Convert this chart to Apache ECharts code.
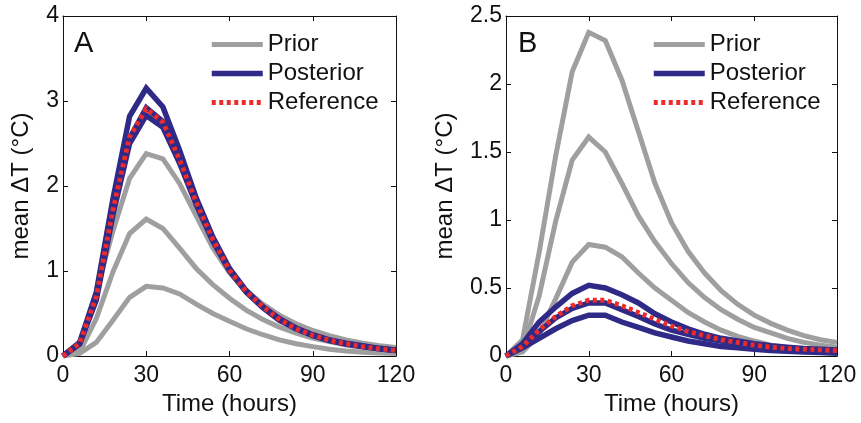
<!DOCTYPE html>
<html>
<head>
<meta charset="utf-8">
<script src="https://cdn.jsdelivr.net/npm/echarts@6/dist/echarts.min.js"></script>
<style>
html,body{margin:0;padding:0;background:#fff;}
#c{width:861px;height:423px;}
</style>
</head>
<body>
<div id="c"></div>
<script>
// ---- data ----
var time = [0, 6, 12, 18, 24, 30, 36, 42, 48, 54, 60, 66, 72, 78, 84, 90, 96, 102, 108, 114, 120];
// Priors (same in both panels)
var priorLow  = [0, 0.03, 0.16, 0.42, 0.69, 0.82, 0.80, 0.73, 0.61, 0.50, 0.41, 0.32, 0.25, 0.19, 0.145, 0.11, 0.08, 0.06, 0.045, 0.035, 0.03];
var priorMid  = [0, 0.05, 0.44, 0.99, 1.44, 1.61, 1.50, 1.27, 1.03, 0.84, 0.68, 0.54, 0.43, 0.34, 0.27, 0.21, 0.17, 0.13, 0.10, 0.08, 0.065];
var priorHigh = [0, 0.12, 0.76, 1.47, 2.09, 2.38, 2.32, 2.03, 1.65, 1.27, 0.98, 0.77, 0.61, 0.48, 0.38, 0.30, 0.24, 0.19, 0.15, 0.12, 0.10];
// Panel A
var postA1 = [0, 0.16, 0.75, 1.85, 2.82, 3.15, 2.93, 2.42, 1.86, 1.40, 1.03, 0.77, 0.58, 0.44, 0.33, 0.25, 0.19, 0.15, 0.12, 0.09, 0.07];
var postA2 = [0, 0.15, 0.70, 1.72, 2.56, 2.92, 2.76, 2.32, 1.82, 1.38, 1.02, 0.76, 0.58, 0.43, 0.32, 0.245, 0.185, 0.145, 0.11, 0.085, 0.065];
var postA3 = [0, 0.14, 0.66, 1.66, 2.50, 2.83, 2.69, 2.27, 1.78, 1.35, 1.00, 0.75, 0.57, 0.42, 0.32, 0.24, 0.18, 0.14, 0.11, 0.085, 0.065];
var refA   = [0, 0.15, 0.70, 1.72, 2.58, 2.91, 2.75, 2.31, 1.81, 1.37, 1.01, 0.76, 0.58, 0.43, 0.32, 0.245, 0.185, 0.145, 0.11, 0.085, 0.065];
// Panel B
var postB1 = [0, 0.09, 0.25, 0.36, 0.46, 0.52, 0.50, 0.45, 0.39, 0.31, 0.25, 0.20, 0.16, 0.13, 0.11, 0.09, 0.075, 0.065, 0.055, 0.05, 0.045];
var postB2 = [0, 0.07, 0.18, 0.28, 0.35, 0.39, 0.39, 0.34, 0.29, 0.235, 0.19, 0.16, 0.13, 0.11, 0.09, 0.07, 0.06, 0.05, 0.045, 0.04, 0.035];
var postB3 = [0, 0.06, 0.13, 0.20, 0.26, 0.30, 0.30, 0.25, 0.21, 0.17, 0.14, 0.11, 0.09, 0.07, 0.06, 0.05, 0.04, 0.035, 0.03, 0.025, 0.02];
var refB   = [0, 0.07, 0.19, 0.29, 0.37, 0.41, 0.41, 0.37, 0.32, 0.27, 0.22, 0.18, 0.15, 0.12, 0.10, 0.08, 0.065, 0.055, 0.05, 0.045, 0.04];

var xTicks = {min: 0, max: 120, interval: 30};
var yTicksA = {min: 0, max: 4, interval: 1};
var yTicksB = {min: 0, max: 2.5, interval: 0.5};
var legendNames = ['Prior', 'Posterior', 'Reference'];
var panelLabels = ['A', 'B'];
var xName = 'Time (hours)';
var yName = 'mean \u0394T (\u00B0C)';

// ---- styles ----
var FONT = 'Liberation Sans, Arial, sans-serif';
var INK = '#111';
var GRAY = '#9f9f9f', NAVY = '#2f2a88', RED = '#ee2a2a';

function pairs(v){ return time.map(function(t,i){ return [t, v[i]]; }); }

function lineSeries(name, v, panel, color, width, dashed){
  return {
    type: 'line', name: name, data: pairs(v),
    xAxisIndex: panel*2, yAxisIndex: panel*2,
    symbol: 'none', silent: true, animation: false, z: dashed ? 4 : (color === NAVY ? 3 : 2),
    lineStyle: {color: color, width: width, type: dashed ? [4, 3.5] : 'solid', cap: 'butt', join: 'miter'},
    itemStyle: {color: color}
  };
}

function mainX(grid, nameGap){
  return {type: 'value', gridIndex: grid, min: xTicks.min, max: xTicks.max, interval: xTicks.interval,
    position: 'bottom', name: xName, nameLocation: 'middle', nameGap: nameGap,
    nameTextStyle: {fontFamily: FONT, fontSize: 24, color: INK},
    axisLine: {show: true, onZero: false, lineStyle: {color: INK, width: 1}},
    axisTick: {show: true, inside: true, length: 5, lineStyle: {color: INK}},
    axisLabel: {fontFamily: FONT, fontSize: 23, color: INK, margin: 8},
    splitLine: {show: false}};
}
function topX(grid){
  return {type: 'value', gridIndex: grid, min: xTicks.min, max: xTicks.max, interval: xTicks.interval,
    position: 'top',
    axisLine: {show: true, onZero: false, lineStyle: {color: INK, width: 1}},
    axisTick: {show: true, inside: true, length: 5, lineStyle: {color: INK}},
    axisLabel: {show: false}, splitLine: {show: false}};
}
function leftY(grid, t, nameGap){
  return {type: 'value', gridIndex: grid, min: t.min, max: t.max, interval: t.interval,
    position: 'left', name: yName, nameLocation: 'middle', nameGap: nameGap,
    nameTextStyle: {fontFamily: FONT, fontSize: 24, color: INK},
    axisLine: {show: true, onZero: false, lineStyle: {color: INK, width: 1}},
    axisTick: {show: true, inside: true, length: 5, lineStyle: {color: INK}},
    axisLabel: {fontFamily: FONT, fontSize: 23, color: INK, margin: 4},
    splitLine: {show: false}};
}
function rightY(grid, t){
  return {type: 'value', gridIndex: grid, min: t.min, max: t.max, interval: t.interval,
    position: 'right',
    axisLine: {show: true, onZero: false, lineStyle: {color: INK, width: 1}},
    axisTick: {show: true, inside: true, length: 5, lineStyle: {color: INK}},
    axisLabel: {show: false}, splitLine: {show: false}};
}
function legend(left){
  return {orient: 'vertical', left: left, top: 30, padding: 0, itemWidth: 51, itemHeight: 14, itemGap: 0,
    itemTextGap: 5, selectedMode: false,
    data: legendNames.map(function(n){ return {name: n}; }),
    itemStyle: {opacity: 0},
    lineStyle: {width: 'inherit', type: 'inherit', cap: 'butt'},
    textStyle: {fontFamily: FONT, fontSize: 24, color: INK, lineHeight: 29}};
}

var series = [];
[priorLow, priorMid, priorHigh].forEach(function(v){ series.push(lineSeries('Prior', v, 0, GRAY, 5, false)); });
[postA1, postA2, postA3].forEach(function(v){ series.push(lineSeries('Posterior', v, 0, NAVY, 5.5, false)); });
series.push(lineSeries('Reference', refA, 0, RED, 4.8, true));
[priorLow, priorMid, priorHigh].forEach(function(v){ series.push(lineSeries('Prior', v, 1, GRAY, 5, false)); });
[postB1, postB2, postB3].forEach(function(v){ series.push(lineSeries('Posterior', v, 1, NAVY, 5.5, false)); });
series.push(lineSeries('Reference', refB, 1, RED, 4.8, true));

var chart = echarts.init(document.getElementById('c'), null, {renderer: 'canvas'});
chart.setOption({
  backgroundColor: '#fff',
  animation: false,
  textStyle: {fontFamily: FONT},
  grid: [
    {left: 63, right: 465, top: 16, bottom: 67, containLabel: false},
    {left: 506, right: 24, top: 16, bottom: 67, containLabel: false}
  ],
  title: [
    {text: panelLabels[0], left: 74, top: 29, padding: 0, textStyle: {fontFamily: FONT, fontSize: 29, fontWeight: 'normal', color: INK}},
    {text: panelLabels[1], left: 518, top: 29, padding: 0, textStyle: {fontFamily: FONT, fontSize: 29, fontWeight: 'normal', color: INK}}
  ],
  legend: [legend(209), legend(651)],
  xAxis: [mainX(0, 36), topX(0), mainX(1, 36), topX(1)],
  yAxis: [leftY(0, yTicksA, 30), rightY(0, yTicksA), leftY(1, yTicksB, 49), rightY(1, yTicksB)],
  series: series
});
</script>
</body>
</html>
